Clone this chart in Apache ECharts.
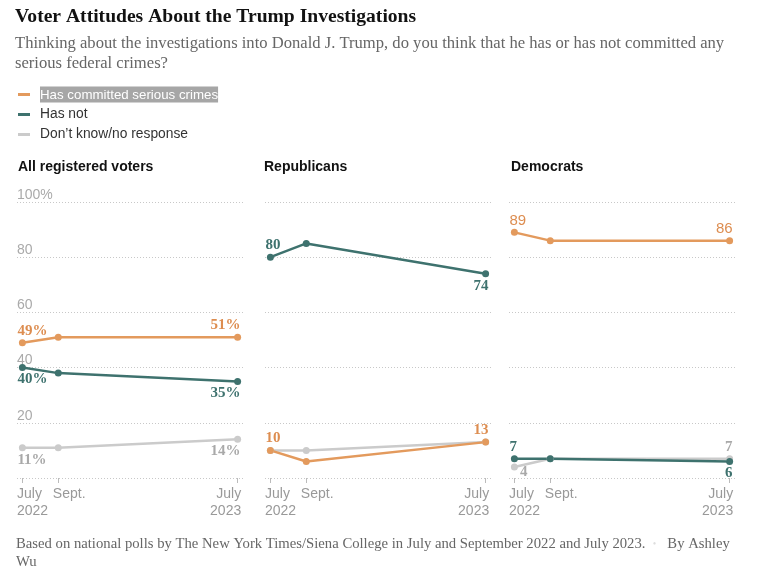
<!DOCTYPE html>
<html><head><meta charset="utf-8">
<script src="https://cdn.jsdelivr.net/npm/echarts@6/dist/echarts.min.js"></script>
<style>html,body{margin:0;padding:0;background:#fff}#c{width:764px;height:580px}</style>
</head><body><div id="c"></div>
<script>
// ---- data ----
const months = [0, 2, 12]; // July 2022, Sept. 2022, July 2023 (months since July 2022)
const tickLabels = ['July\n2022', 'Sept.', 'July\n2023'];
const panelTitles = ['All registered voters', 'Republicans', 'Democrats'];
const seriesNames = ['Has committed serious crimes', 'Has not', 'Don’t know/no response'];
const yTicks = [0, 20, 40, 60, 80, 100];

const allCommitted = [49, 51, 51];
const allHasNot = [40, 38, 35];
const allDontKnow = [11, 11, 14];

const repCommitted = [10, 6, 13];
const repHasNot = [80, 85, 74];
const repDontKnow = [10, 10, 13];

const demCommitted = [89, 86, 86];
const demHasNot = [7, 7, 6];
const demDontKnow = [4, 7, 7];

// ---- styling / layout ----
const COLORS = { committed: '#e39a5d', hasNot: '#3e726e', dk: '#cbcbcb' };
const LABEL_COLORS = { committed: '#dd8d50', hasNot: '#3e726e', dk: '#a9a9a9' };
const NAME = { committed: seriesNames[0], hasNot: seriesNames[1], dk: seriesNames[2] };
const gridLefts = [17, 265, 509];
const GRID_TOP = 202, GRID_H = 276, GRID_W = 226;
const X_MIN = -0.3, X_MAX = 12.3;
const LEFT_LABEL_SHIFT = 0.3;   // nudges left-aligned tick labels a few px left of their tick
const RIGHT_LABEL_SHIFT = 0.2;  // nudges right-aligned tick labels a few px right of their tick

const panels = [
  { values: { committed: allCommitted, hasNot: allHasNot, dk: allDontKnow }, suffix: '%',
    labels: { committed: ['top', 'top'], hasNot: ['bottom', 'bottom'], dk: ['bottom', 'bottom'] }, sans: [] },
  { values: { committed: repCommitted, hasNot: repHasNot, dk: repDontKnow }, suffix: '',
    labels: { committed: ['top', 'top'], hasNot: ['top', 'bottom'], dk: [null, null] }, sans: [] },
  { values: { committed: demCommitted, hasNot: demHasNot, dk: demDontKnow }, suffix: '',
    labels: { committed: ['top', 'top'], hasNot: ['top', 'bottom'], dk: ['right', 'top'] }, sans: ['committed'] }
];

function makeLabel(pos, isFirst, key, suffix, sans) {
  if (!pos) return { show: false };
  const o = {
    show: true, position: pos, distance: 1, color: LABEL_COLORS[key],
    fontFamily: sans ? 'Liberation Sans' : 'Liberation Serif',
    fontWeight: sans ? 'normal' : 'bold', fontSize: 15,
    formatter: p => p.value[1] + suffix
  };
  if (pos === 'right') { o.distance = 2; o.offset = [0, 5]; }
  else { o.align = isFirst ? 'left' : 'right'; o.offset = isFirst ? [-5, 0] : [3, 0]; }
  return o;
}

const grids = [], xAxes = [], yAxes = [], series = [];
panels.forEach((p, gi) => {
  grids.push({ left: gridLefts[gi], top: GRID_TOP, width: GRID_W, height: GRID_H });
  const labelBase = { color: '#999', fontSize: 14, lineHeight: 17, fontFamily: 'Liberation Sans', margin: 8,
    formatter: v => tickLabels[months.indexOf(v)] || '' };
  // axis 1: carries the data, ticks
  xAxes.push({
    type: 'value', gridIndex: gi, min: X_MIN, max: X_MAX, position: 'bottom',
    axisLine: { show: false }, splitLine: { show: false },
    axisTick: { show: true, customValues: months, length: 5, lineStyle: { color: '#bbb' } },
    axisLabel: { show: false }
  });
  // axis 2: left-aligned tick labels
  xAxes.push({
    type: 'value', gridIndex: gi, min: X_MIN + LEFT_LABEL_SHIFT, max: X_MAX + LEFT_LABEL_SHIFT, position: 'bottom',
    axisLine: { show: false }, splitLine: { show: false }, axisTick: { show: false },
    axisLabel: Object.assign({}, labelBase, { customValues: months.slice(0, 2), align: 'left' })
  });
  // axis 3: right-aligned last tick label
  xAxes.push({
    type: 'value', gridIndex: gi, min: X_MIN - RIGHT_LABEL_SHIFT, max: X_MAX - RIGHT_LABEL_SHIFT, position: 'bottom',
    axisLine: { show: false }, splitLine: { show: false }, axisTick: { show: false },
    axisLabel: Object.assign({}, labelBase, { customValues: months.slice(2), align: 'right' })
  });
  yAxes.push({
    type: 'value', gridIndex: gi, min: yTicks[0], max: yTicks[yTicks.length - 1], interval: 20,
    axisLine: { show: false }, axisTick: { show: false },
    splitLine: { show: true, lineStyle: { color: '#c8c8c8', type: [1, 2], width: 1 } },
    axisLabel: {
      show: gi === 0, inside: true, align: 'left', verticalAlign: 'bottom', margin: 0,
      color: '#aaa', fontSize: 14, fontFamily: 'Liberation Sans',
      formatter: v => v === 100 ? '100%' : (v === 0 ? '' : String(v))
    }
  });
  ['dk', 'hasNot', 'committed'].forEach(key => {
    const vals = p.values[key];
    const sans = p.sans.indexOf(key) >= 0;
    series.push({
      type: 'line', name: NAME[key], xAxisIndex: gi * 3, yAxisIndex: gi,
      color: COLORS[key], lineStyle: { width: 2.5, color: COLORS[key] },
      symbol: 'circle', symbolSize: 7, itemStyle: { color: COLORS[key] },
      emphasis: { disabled: true }, silent: true,
      data: vals.map((v, i) => ({
        value: [months[i], v],
        label: i === 0 ? makeLabel(p.labels[key][0], true, key, p.suffix, sans)
             : i === vals.length - 1 ? makeLabel(p.labels[key][1], false, key, p.suffix, sans)
             : { show: false }
      }))
    });
  });
});

const titles = [
  { text: 'Voter Attitudes About the Trump Investigations',
    subtext: 'Thinking about the investigations into Donald J. Trump, do you think that he has or has not committed any\nserious federal crimes?',
    left: 15, top: 7, padding: 0, itemGap: 7,
    textStyle: { fontFamily: 'Liberation Serif', fontWeight: 'bold', fontSize: 19.6, color: '#121212' },
    subtextStyle: { fontFamily: 'Liberation Serif', fontSize: 16.6, lineHeight: 20, color: '#666' } }
];
panelTitles.forEach((t, i) => titles.push({
  text: t, left: [18, 264, 511][i], top: 160, padding: 0,
  textStyle: { fontFamily: 'Liberation Sans', fontWeight: 'bold', fontSize: 14, color: '#121212' }
}));
titles.push({
  text: 'Based on national polls by The New York Times/Siena College in July and September 2022 and July 2023.  {dot|•}   By Ashley\nWu',
  left: 16, top: 535, padding: 0,
  textStyle: { fontFamily: 'Liberation Serif', fontWeight: 'normal', fontSize: 14.7, lineHeight: 18, color: '#666',
    rich: { dot: { color: '#ddd', fontSize: 10 } } }
});

const chart = echarts.init(document.getElementById('c'));
chart.setOption({
  animation: false,
  backgroundColor: '#fff',
  title: titles,
  legend: {
    orient: 'vertical', left: 18, top: 86, padding: 0, itemGap: 3,
    icon: 'rect', itemWidth: 12, itemHeight: 3, selectedMode: false,
    formatter: name => name === seriesNames[0] ? '{gap|}{hl|' + name + '}' : '{gap|}{n|' + name + '}',
    textStyle: {
      fontFamily: 'Liberation Sans', fontSize: 14, lineHeight: 17, color: '#333',
      rich: {
        gap: { width: 5 },
        n: { fontFamily: 'Liberation Sans', fontSize: 13.8, color: '#333' },
        hl: { fontFamily: 'Liberation Sans', fontSize: 13.3, color: '#fff', backgroundColor: '#a6a6a6', padding: [2, 0, 1, 0] }
      }
    },
    data: seriesNames
  },
  grid: grids, xAxis: xAxes, yAxis: yAxes, series: series
});
</script></body></html>
